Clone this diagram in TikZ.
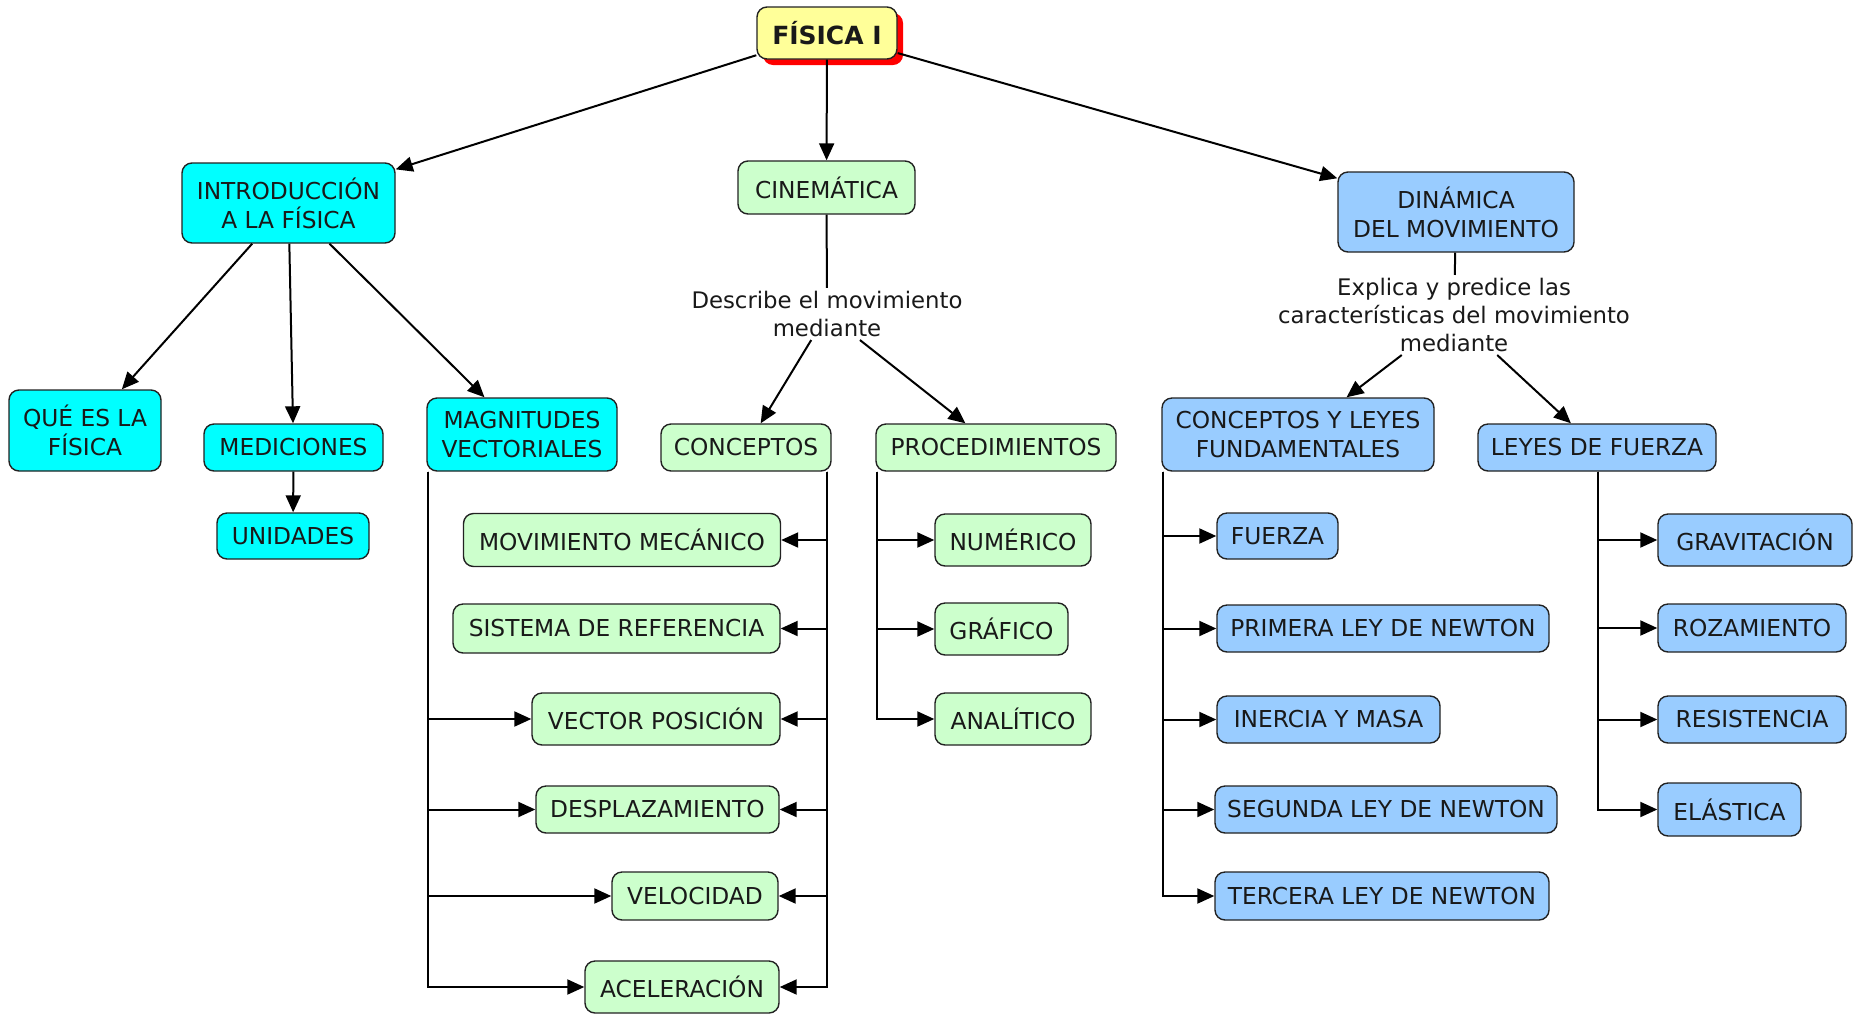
\documentclass[tikz,border=0pt]{standalone}
\usepackage{fontspec}
\setmainfont{DejaVu Sans}
\usetikzlibrary{arrows.meta,shadows}
\definecolor{cyanbox}{HTML}{00FFFF}
\definecolor{greenbox}{HTML}{CCFFCC}
\definecolor{bluebox}{HTML}{99CCFF}
\definecolor{yellowbox}{HTML}{FFFF99}
\definecolor{edge}{HTML}{222222}
\tikzset{
  box/.style={draw=edge, line width=1.4pt, rounded corners=10pt, inner sep=0pt,
    align=center, font=\fontsize{23.3}{29}\selectfont, text=black!90},
  cy/.style={box, fill=cyanbox},
  gr/.style={box, fill=greenbox},
  bl/.style={box, fill=bluebox},
  phrase/.style={inner sep=3pt, align=center, font=\fontsize{22.8}{28}\selectfont, text=black!90},
  arr/.style={draw=black, line width=2pt, -{Triangle[length=17pt,width=15pt]}},
  ln/.style={draw=black, line width=2pt},
}
\begin{document}
\begin{tikzpicture}[x=1pt,y=-1pt]
\useasboundingbox (0,0) rectangle (1861,1013);
% top
\node[box, fill=yellowbox, minimum width=140pt, minimum height=52pt,
  font=\fontsize{25}{29}\selectfont\bfseries,
  drop shadow={shadow xshift=6pt, shadow yshift=-6pt, fill=red, opacity=1}] (fis) at (827,33) {FÍSICA I};
% level 1
\node[cy, minimum width=213pt, minimum height=80pt] (intro) at (288.5,203) {INTRODUCCIÓN\\A LA FÍSICA};
\node[gr, minimum width=177pt, minimum height=53pt] (cin) at (826.5,187.5) {CINEMÁTICA};
\node[bl, minimum width=236pt, minimum height=80pt] (din) at (1456,212) {DINÁMICA\\DEL MOVIMIENTO};
% intro children
\node[cy, minimum width=152pt, minimum height=81pt] (que) at (85,430.5) {QUÉ ES LA\\FÍSICA};
\node[cy, minimum width=179pt, minimum height=47pt] (med) at (293.5,447.5) {MEDICIONES};
\node[cy, minimum width=152pt, minimum height=46pt] (uni) at (293,536) {UNIDADES};
\node[cy, minimum width=190pt, minimum height=73pt] (mag) at (522,434.5) {MAGNITUDES\\VECTORIALES};
% cinematica
\node[phrase] (desc) at (827,314) {Describe el movimiento\\mediante};
\node[gr, minimum width=170pt, minimum height=47pt] (con) at (746,447.5) {CONCEPTOS};
\node[gr, minimum width=240pt, minimum height=47pt] (proc) at (996,447.5) {PROCEDIMIENTOS};
\node[gr, minimum width=317pt, minimum height=53pt] (mm) at (622,540) {MOVIMIENTO MECÁNICO};
\node[gr, minimum width=327pt, minimum height=49pt] (sr) at (616.5,628.5) {SISTEMA DE REFERENCIA};
\node[gr, minimum width=248pt, minimum height=52pt] (vp) at (656,719) {VECTOR POSICIÓN};
\node[gr, minimum width=243pt, minimum height=47pt] (des) at (657.5,809.5) {DESPLAZAMIENTO};
\node[gr, minimum width=166pt, minimum height=48pt] (vel) at (695,896) {VELOCIDAD};
\node[gr, minimum width=194pt, minimum height=52pt] (ace) at (682,987) {ACELERACIÓN};
\node[gr, minimum width=156pt, minimum height=52pt] (num) at (1013,540) {NUMÉRICO};
\node[gr, minimum width=133pt, minimum height=52pt] (gra) at (1001.5,629) {GRÁFICO};
\node[gr, minimum width=156pt, minimum height=52pt] (ana) at (1013,719) {ANALÍTICO};
% dinamica
\node[phrase] (expl) at (1454,315) {Explica y predice las\\características del movimiento\\mediante};
\node[bl, minimum width=272pt, minimum height=73pt] (cyl) at (1298,434.5) {CONCEPTOS Y LEYES\\FUNDAMENTALES};
\node[bl, minimum width=238pt, minimum height=47pt] (ldf) at (1597,447.5) {LEYES DE FUERZA};
\node[bl, minimum width=121pt, minimum height=46pt] (fue) at (1277.5,536) {FUERZA};
\node[bl, minimum width=332pt, minimum height=47pt] (pri) at (1383,628.5) {PRIMERA LEY DE NEWTON};
\node[bl, minimum width=223pt, minimum height=47pt] (ine) at (1328.5,719.5) {INERCIA Y MASA};
\node[bl, minimum width=342pt, minimum height=47pt] (seg) at (1386,809.5) {SEGUNDA LEY DE NEWTON};
\node[bl, minimum width=334pt, minimum height=48pt] (ter) at (1382,896) {TERCERA LEY DE NEWTON};
\node[bl, minimum width=194pt, minimum height=52pt] (grav) at (1755,540) {GRAVITACIÓN};
\node[bl, minimum width=188pt, minimum height=48pt] (roz) at (1752,628) {ROZAMIENTO};
\node[bl, minimum width=188pt, minimum height=47pt] (res) at (1752,719.5) {RESISTENCIA};
\node[bl, minimum width=143pt, minimum height=53pt] (ela) at (1729.5,809.5) {ELÁSTICA};

% main connectors
\draw[arr] (fis) -- (intro);
\draw[arr] (fis) -- (cin);
\draw[arr] (fis) -- (din);
\draw[arr] (intro) -- (que);
\draw[arr] (intro) -- (med);
\draw[arr] (intro) -- (mag);
\draw[arr] (med) -- (uni);
\draw[ln] (cin) -- (desc);
\draw[arr] (desc) -- (con);
\draw[arr] (desc) -- (proc);
\draw[ln] (din) -- (expl);
\draw[arr] (expl) -- (cyl);
\draw[arr] (expl) -- (ldf);

% tree connectors
\foreach \t in {vp,des,vel,ace}
  \draw[arr] ([xshift=2pt]mag.south west) |- (\t.west);
\foreach \t in {mm,sr,vp,des,vel,ace}
  \draw[arr] ([xshift=-5pt]con.south east) |- (\t.east);
\foreach \t in {num,gra,ana}
  \draw[arr] ([xshift=2pt]proc.south west) |- (\t.west);
\foreach \t in {fue,pri,ine,seg,ter}
  \draw[arr] ([xshift=2pt]cyl.south west) |- (\t.west);
\foreach \t in {grav,roz,res,ela}
  \draw[arr] ([xshift=1pt]ldf.south) |- (\t.west);
\end{tikzpicture}
\end{document}
